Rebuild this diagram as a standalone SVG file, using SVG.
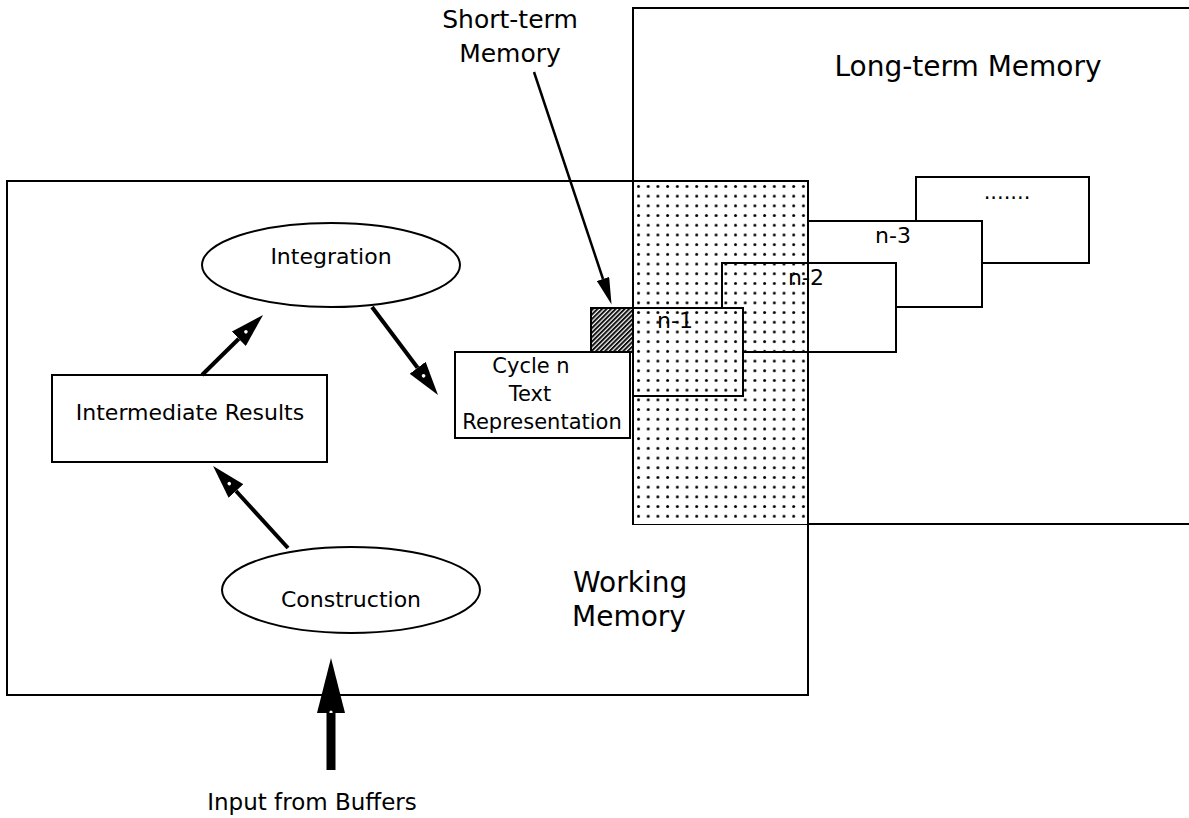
<svg xmlns="http://www.w3.org/2000/svg" width="1189" height="818" viewBox="0 0 1189 818">
<style>
.box{fill:#fff;stroke:#000;stroke-width:2}
.frame{fill:none;stroke:#000;stroke-width:2}
.lbl{font-family:"DejaVu Sans",sans-serif;fill:#000}
.big{font-size:28px}
.stm{font-size:25px}
.mid{font-size:22px}
.sm{font-size:21px}
.thick{stroke:#000;stroke-width:4;fill:none}
.thin{stroke:#000;stroke-width:2.5;fill:none}
</style>
<defs>
<pattern id="dots" width="9.7" height="9.7" patternUnits="userSpaceOnUse" x="636" y="184"><circle cx="2.5" cy="2.5" r="1.5" fill="#000"/></pattern>
<pattern id="hatch" width="3.2" height="3.2" patternUnits="userSpaceOnUse" patternTransform="rotate(45)"><rect width="3.2" height="3.2" fill="#fff"/><rect width="2" height="3.2" fill="#111"/></pattern>
<marker id="headThick" viewBox="0 0 34 20" markerWidth="34" markerHeight="20" refX="0" refY="10" orient="auto" markerUnits="userSpaceOnUse"><path d="M0,0 L34,10 L0,20 z" fill="#000"/><circle cx="10" cy="10" r="1.8" fill="#fff"/></marker>
<marker id="headThin" viewBox="0 0 27 13" markerWidth="27" markerHeight="13" refX="0" refY="6.5" orient="auto" markerUnits="userSpaceOnUse"><path d="M0,0 L27,6.5 L0,13 z" fill="#000"/></marker>
<marker id="headBig" viewBox="0 0 55 28" markerWidth="55" markerHeight="28" refX="0" refY="14" orient="auto" markerUnits="userSpaceOnUse"><path d="M0,0 L55,14 L0,28 z" fill="#000"/><circle cx="1" cy="14" r="1.6" fill="#fff"/></marker>
</defs>

<g id="long-term-memory">
<rect class="box" x="633" y="8" width="570" height="516"/>
<text class="lbl big" x="968" y="76" text-anchor="middle">Long-term Memory</text>
</g>

<g id="working-memory">
<rect class="frame" x="7" y="181" width="801" height="514"/>
<text class="lbl big" x="573" y="592">Working</text>
<text class="lbl big" x="572" y="626">Memory</text>
</g>

<g id="cycle-dots">
<rect class="box" x="916" y="177" width="173" height="86"/>
<text class="lbl sm" x="1007" y="199" text-anchor="middle">.......</text>
</g>

<g id="cycle-n-3">
<rect class="box" x="808" y="221" width="174" height="86"/>
<text class="lbl mid" x="893" y="243" text-anchor="middle">n-3</text>
</g>

<g id="overlap-region">
<rect x="633" y="181" width="175" height="343" fill="#fff" stroke="none"/>
</g>

<g id="cycle-n-2">
<rect class="box" x="722" y="263" width="174" height="89"/>
</g>

<g id="cycle-n-1">
<rect class="box" x="633" y="308" width="110" height="88"/>
</g>

<g id="overlap-dots">
<rect x="633" y="181" width="175" height="343" fill="url(#dots)" stroke="none"/>
<path class="frame" d="M633,181 H808 V524 M633,8 V524 M722,263 H808 M722,263 V308 M743,308 V396 H633 M633,308 H743 M743,352 H808"/>
<text class="lbl mid" x="806" y="285" text-anchor="middle">n-2</text>
<text class="lbl mid" x="675" y="328" text-anchor="middle">n-1</text>
</g>

<g id="short-term-memory">
<rect x="591" y="308" width="42" height="44" fill="url(#hatch)" stroke="#000" stroke-width="2"/>
<text class="lbl stm" x="510" y="28" text-anchor="middle">Short-term</text>
<text class="lbl stm" x="510" y="62" text-anchor="middle">Memory</text>
</g>

<g id="cycle-n">
<rect class="box" x="455" y="352" width="175" height="86"/>
<text class="lbl sm" x="531" y="373" text-anchor="middle">Cycle n</text>
<text class="lbl sm" x="530" y="401" text-anchor="middle">Text</text>
<text class="lbl sm" x="542" y="429" text-anchor="middle">Representation</text>
</g>

<g id="integration">
<ellipse class="box" cx="331" cy="265" rx="129" ry="42"/>
<text class="lbl mid" x="331" y="264" text-anchor="middle">Integration</text>
</g>

<g id="intermediate-results">
<rect class="box" x="52" y="375" width="275" height="87"/>
<text class="lbl mid" x="190" y="420" text-anchor="middle">Intermediate Results</text>
</g>

<g id="construction">
<ellipse class="box" cx="351" cy="590" rx="129" ry="43"/>
<text class="lbl mid" x="351" y="607" text-anchor="middle">Construction</text>
</g>

<g id="input-label">
<text class="lbl" style="font-size:23px" x="312" y="810" text-anchor="middle">Input from Buffers</text>
</g>

<g id="connectors">
<line class="thick" x1="202" y1="375" x2="238.8" y2="338.8" marker-end="url(#headThick)"/>
<line class="thick" x1="372" y1="307" x2="417.6" y2="367.8" marker-end="url(#headThick)"/>
<line class="thick" x1="288" y1="548" x2="236" y2="491" marker-end="url(#headThick)"/>
<line class="thin" x1="534" y1="72" x2="603" y2="279" marker-end="url(#headThin)"/>
<line x1="331" y1="770" x2="331" y2="713" stroke="#000" stroke-width="9" marker-end="url(#headBig)"/>
</g>
</svg>
